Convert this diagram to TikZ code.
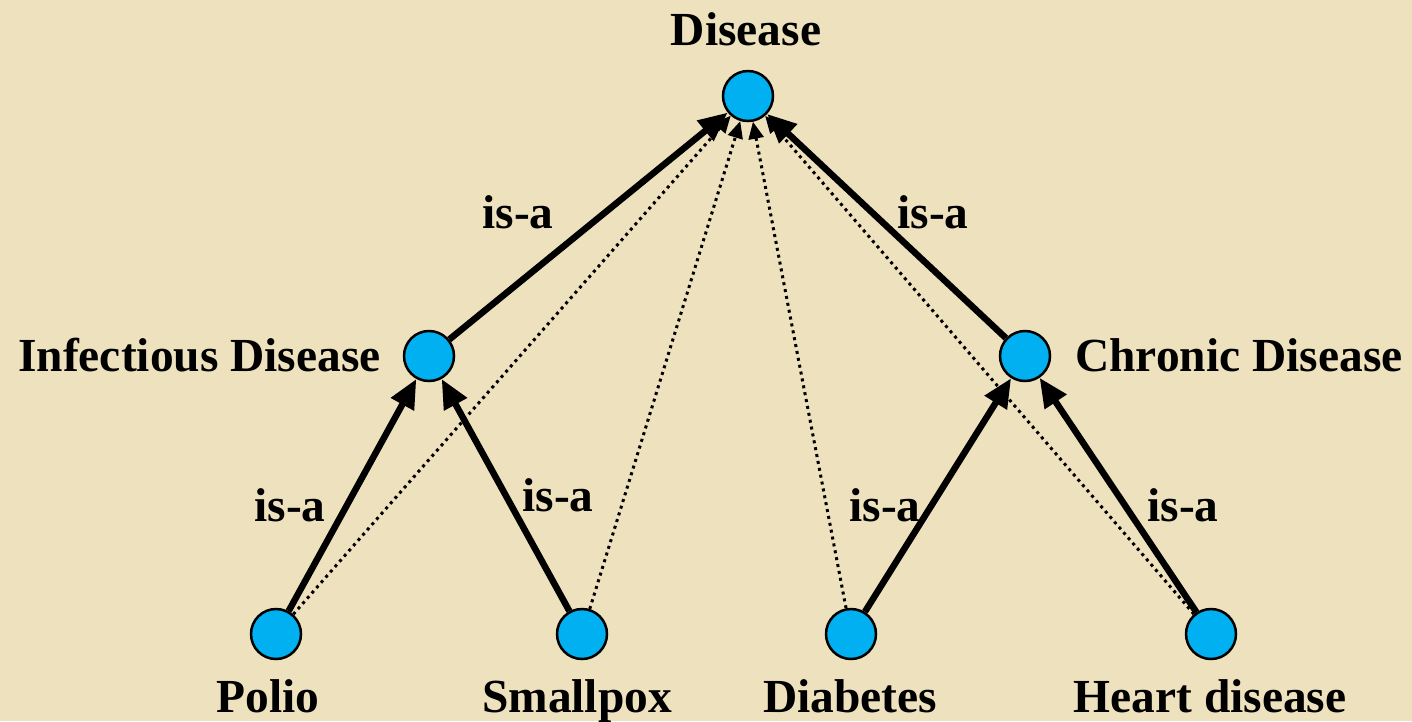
\documentclass[tikz,border=0pt]{standalone}
\usepackage{fontspec}
\setmainfont{Liberation Serif}
\usetikzlibrary{arrows.meta}
\definecolor{parchment}{RGB}{238,225,190}
\definecolor{nodeblue}{RGB}{0,176,240}
\tikzset{
  concept/.style={circle, draw=black, line width=0.05cm, fill=nodeblue, minimum size=1.0cm, inner sep=0pt},
  lbl/.style={font=\bfseries\fontsize{27}{30}\selectfont, anchor=base, inner sep=0pt},
  isa/.style={line width=0.13cm, -{Triangle[length=0.58cm, width=0.5cm]}},
  inferred/.style={line width=0.06cm, dash pattern=on 0.06cm off 0.08cm, -{Triangle[length=0.34cm, width=0.3cm]}}
}
\begin{document}
\begin{tikzpicture}[x=0.02cm, y=-0.02cm]
  % parchment background
  \fill[parchment] (0,0) rectangle (1412,721);
  \useasboundingbox (0,0) rectangle (1412,721);

  % concepts
  \node[concept] (dis) at (748,96) {};
  \node[concept] (inf) at (429,356) {};
  \node[concept] (chr) at (1025,356) {};
  \node[concept] (pol) at (276,634) {};
  \node[concept] (sma) at (582,634) {};
  \node[concept] (dia) at (851,634) {};
  \node[concept] (hea) at (1211,634) {};

  % names
  \node[lbl] (tdis) at (746,45) {Disease};
  \node[lbl, anchor=base east] (tinf) at (381,371) {Infectious Disease};
  \node[lbl, anchor=base west] (tchr) at (1075,371) {Chronic Disease};
  \node[lbl] (tpol) at (268,712) {Polio};
  \node[lbl] (tsma) at (577,712) {Smallpox};
  \node[lbl] (tdia) at (850,712) {Diabetes};
  \node[lbl] (thea) at (1210,712) {Heart disease};

  % inferred (transitive) links
  \draw[inferred] (pol) -- (dis);
  \draw[inferred] (sma) -- (dis);
  \draw[inferred] (dia) -- (dis);
  \draw[inferred] (hea) -- (dis);

  % asserted is-a links
  \draw[isa] (inf) -- (dis);
  \draw[isa] (chr) -- (dis);
  \draw[isa] (pol) -- (inf);
  \draw[isa] (sma) -- (inf);
  \draw[isa] (dia) -- (chr);
  \draw[isa] (hea) -- (chr);

  % link labels
  \node[lbl] (l1) at (518,228) {is-a};
  \node[lbl] (l2) at (933,228) {is-a};
  \node[lbl] (l3) at (290,521) {is-a};
  \node[lbl] (l4) at (558,511) {is-a};
  \node[lbl] (l5) at (885,521) {is-a};
  \node[lbl] (l6) at (1183,521) {is-a};
\end{tikzpicture}
\end{document}
